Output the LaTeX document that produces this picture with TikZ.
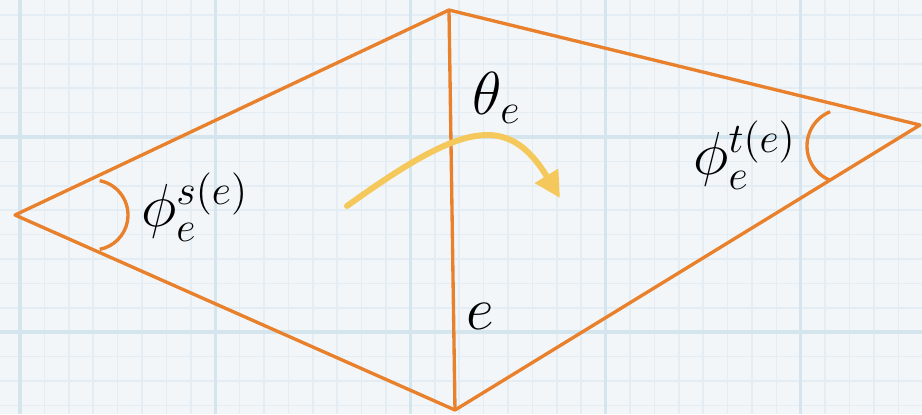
\documentclass[tikz,border=0pt]{standalone}
\usetikzlibrary{arrows.meta}

\begin{document}
\begin{tikzpicture}[x=0.1mm, y=-0.1mm,
    aresta/.style={draw=EdgeOrange, line width=0.95pt, line join=round},
    arco/.style={draw=EdgeOrange, line width=0.95pt},
    seta/.style={draw=ArrowYellow, line width=1.7pt, line cap=round,
        -{Triangle[length=2.6mm, width=2.6mm]}},
    rotulo/.style={font=\fontsize{17.5}{21}\selectfont, inner sep=0pt},
]

\definecolor{PaperFill}{RGB}{242,246,249}
\definecolor{GridMinor}{RGB}{228,237,243}
\definecolor{GridMajor}{RGB}{212,229,238}
\definecolor{EdgeOrange}{RGB}{232,128,44}
\definecolor{ArrowYellow}{RGB}{245,200,92}

% ── Papel quadriculado ──────────────────────────────────────
\useasboundingbox (0,0) rectangle (922,414);
\fill[PaperFill] (0,0) rectangle (922,414);
\foreach \gx in {0,...,37}
    \draw[GridMinor, line width=0.5pt] ({20+24.4*\gx},0) -- ++(0,414);
\foreach \gy in {0,...,16}
    \draw[GridMinor, line width=0.5pt] (0,{15+24.4*\gy}) -- ++(922,0);
\foreach \gx in {0,...,4}
    \draw[GridMajor, line width=0.9pt] ({20+195.2*\gx},0) -- ++(0,414);
\foreach \gy in {137,332}
    \draw[GridMajor, line width=0.9pt] (0,\gy) -- ++(922,0);

% ── Vértices do losango ─────────────────────────────────────
\coordinate (vesq)  at (15,215);
\coordinate (vtopo) at (449,10);
\coordinate (vdir)  at (920,125);
\coordinate (vbase) at (455,410);

\draw[aresta] (vesq) -- (vtopo) -- (vdir) -- (vbase) -- cycle;
\draw[aresta] (vtopo) -- (vbase);

% ── Arcos dos ângulos ───────────────────────────────────────
\coordinate (cs) at (93,215);
\coordinate (ct) at (844,146);
\draw[arco] ([shift={(79:3.5mm)}]cs) arc[start angle=79, end angle=-79, radius=3.5mm];
\draw[arco] ([shift={(112:3.7mm)}]ct) arc[start angle=112, end angle=248, radius=3.7mm];

% ── Rótulos ─────────────────────────────────────────────────
\node[rotulo] (phis)  at (195,207) {$\phi_e^{s(e)}$};
\node[rotulo] (phit)  at (745,155) {$\phi_e^{t(e)}$};
\node[rotulo] (theta) at (497,98)  {$\theta_e$};
\node[rotulo] (elab)  at (480,316) {$e$};

% ── Seta curva amarela ──────────────────────────────────────
\coordinate (inicio) at (347,206);
\coordinate (ponta)  at (560,198);
\draw[seta] (inicio) .. controls (462,123) and (507.5,112) .. (ponta);

\end{tikzpicture}
\end{document}
